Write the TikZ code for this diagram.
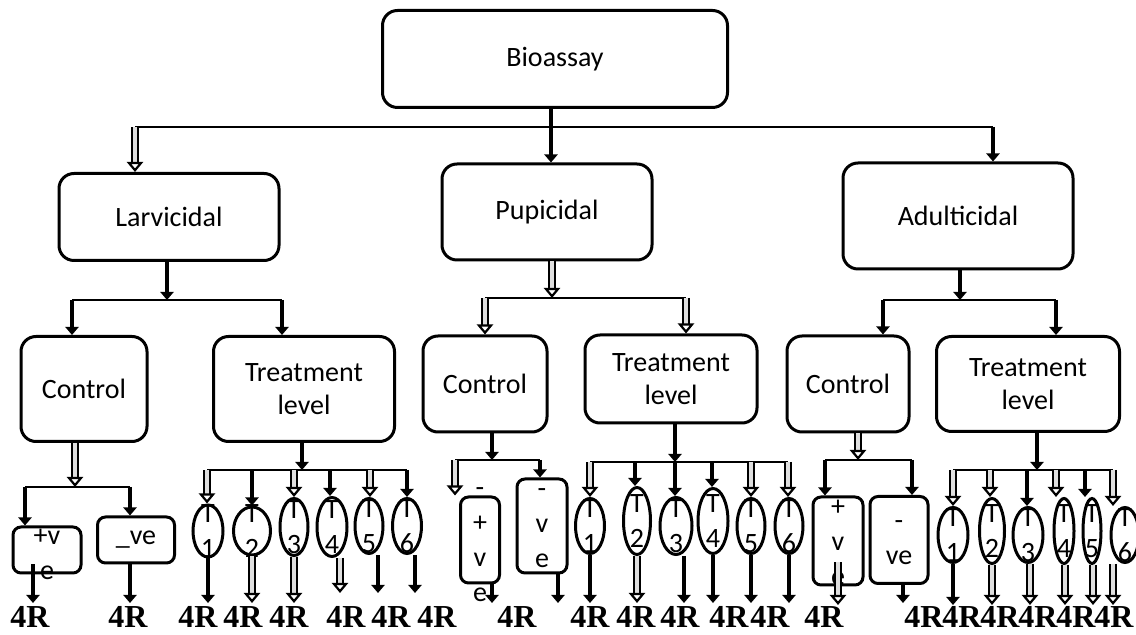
\documentclass[tikz,border=0pt]{standalone}
\usepackage{fontspec}
\setmainfont{Carlito}
\newfontfamily\repfont{Liberation Serif}
\usetikzlibrary{arrows.meta,shapes.geometric}
\tikzset{box/.style={draw, line width=1.5pt, rounded corners=7.5pt, align=center,
        inner sep=0pt, font=\fontsize{14}{16.5}\selectfont},
    smallbox/.style={box, rounded corners=4pt},
    trt/.style={draw, ellipse, line width=1.5pt, inner sep=0pt},
    lab/.style={align=center, inner sep=0pt, font=\fontsize{14}{17.5}\selectfont},
    hline/.style={line width=1pt},
    solidarr/.style={line width=2.4pt, -{Triangle[width=6.5pt,length=4pt]}},
    openarr/.style={double=gray!25, double distance=1.8pt, line width=1.1pt,
        -{Triangle[open,width=8pt,length=5pt]}},
    rep/.style={font=\repfont\bfseries\fontsize{16}{16}\selectfont, inner sep=0pt},
    }
\begin{document}
\begin{tikzpicture}[x=0.5pt, y=-0.5pt]
\useasboundingbox (0,0) rectangle (1136,635);
% top level
\node[box, minimum width=172.5pt, minimum height=48.5pt] (bio) at (555,59) {Bioassay};
\node[box, minimum width=110pt, minimum height=43.5pt] (lar) at (169,217) {Larvicidal};
\node[box, minimum width=105pt, minimum height=48pt] (pup) at (547,212) {Pupicidal};
\node[box, minimum width=115pt, minimum height=53pt] (adu) at (958,216) {Adulticidal};
\coordinate (tl) at (135,127); \coordinate (tr) at (993,127);
\draw[hline] (tl) -- (tr);
\draw[openarr] (tl) -- (tl |- lar.north);
\draw[solidarr, line width=1.6pt] (bio.south -| 551,0) -- (pup.north -| 551,0);
\draw[solidarr] (tr) -- (tr |- adu.north);
% control and treatment level
\node[box, minimum width=63pt, minimum height=52.5pt] (lcon) at (84,389) {Control};
\node[box, minimum width=90.5pt, minimum height=52.5pt] (ltre) at (304,389) {Treatment\\level};
\node[box, minimum width=62pt, minimum height=48pt] (pcon) at (485,384) {Control};
\node[box, minimum width=86pt, minimum height=44pt] (ptre) at (671,379) {Treatment\\level};
\node[box, minimum width=61pt, minimum height=48pt] (acon) at (848,384) {Control};
\node[box, minimum width=91.5pt, minimum height=47.5pt] (atre) at (1028,384) {Treatment\\level};
\coordinate (lj) at (167,300); \coordinate (lj1) at (72,300); \coordinate (lj2) at (282,300);
\draw[solidarr] (lar.south -| lj) -- (lj);
\draw[hline] (lj1) -- (lj2);
\draw[solidarr] (lj1) -- (lj1 |- lcon.north);
\draw[solidarr] (lj2) -- (lj2 |- ltre.north);
\coordinate (pj) at (552,298); \coordinate (pj1) at (485,298); \coordinate (pj2) at (686,298);
\draw[openarr] (pup.south -| pj) -- (pj);
\draw[hline] (pj1) -- (pj2);
\draw[openarr] (pj1) -- (pj1 |- pcon.north);
\draw[openarr] (pj2) -- (pj2 |- ptre.north);
\coordinate (aj) at (960,300); \coordinate (aj1) at (883,300); \coordinate (aj2) at (1056,300);
\draw[solidarr] (adu.south -| aj) -- (aj);
\draw[hline] (aj1) -- (aj2);
\draw[solidarr] (aj1) -- (aj1 |- acon.north);
\draw[solidarr] (aj2) -- (aj2 |- atre.north);
% controls: +ve and -ve
\node[smallbox, minimum width=34pt, minimum height=23pt,
    label={[lab, yshift=-2pt]center:+v\\e}] (lpos) at (47,550) {};
\node[smallbox, minimum width=38.5pt, minimum height=23pt] (lneg) at (136,540) {\_ve};
\node[smallbox, minimum width=19.5pt, minimum height=43pt,
    label={[lab, yshift=-2.5pt]center:-\\+\\v\\e}] (ppos) at (480,540) {};
\node[smallbox, minimum width=25pt, minimum height=47pt,
    label={[lab, yshift=-1pt]center:-\\v\\e}] (pneg) at (542,526) {};
\node[smallbox, minimum width=25pt, minimum height=44pt,
    label={[lab, yshift=-1pt]center:+\\v\\e}] (apos) at (838,541) {};
\node[smallbox, minimum width=29pt, minimum height=43.5pt,
    label={[lab, yshift=-1.5pt]center:-\\ve}] (aneg) at (899,540) {};
\coordinate (lc) at (75,487); \coordinate (lc1) at (25,487); \coordinate (lc2) at (130,487);
\draw[openarr] (lcon.south -| lc) -- (lc);
\draw[hline] (lc1) -- (lc2);
\draw[solidarr] (lc1) -- (lc1 |- lpos.north);
\draw[solidarr] (lc2) -- (lc2 |- lneg.north);
\draw[solidarr] ([yshift=5pt]lpos.south -| 33,0) -- (33,603);
\draw[solidarr] (lneg.south -| 130,0) -- (130,603);
\coordinate (pc) at (492,460); \coordinate (pc1) at (455,460); \coordinate (pc2) at (540,460);
\draw[solidarr] (pcon.south -| pc) -- (pc);
\draw[hline] (pc1) -- (pc2);
\draw[openarr] (pc1) -- (pc1 |- ppos.north);
\draw[solidarr] (pc2) -- (pc2 |- pneg.north);
\draw[solidarr] (ppos.south -| 492,0) -- (492,603);
\draw[solidarr] (pneg.south -| 558,0) -- (558,603);
\coordinate (ac) at (858,460); \coordinate (ac1) at (825,460); \coordinate (ac2) at (912,460);
\draw[openarr] (acon.south -| ac) -- (ac);
\draw[hline] (ac1) -- (ac2);
\draw[solidarr] (ac1) -- (ac1 |- apos.north);
\draw[solidarr] (ac2) -- (ac2 |- aneg.north);
\draw[openarr] ([yshift=12pt]apos.south -| 838,0) -- (838,605);
\draw[solidarr] (aneg.south -| 903,0) -- (903,603);
% treatment levels T1..T6
\coordinate (lb) at (302,470); \coordinate (pb) at (675,462); \coordinate (ab) at (1037,470);
\draw[solidarr] (ltre.south -| lb) -- (lb);
\draw[solidarr] (ptre.south -| pb) -- (pb);
\draw[solidarr] (atre.south -| ab) -- (ab);
\draw[hline] (207,470) -- (407,470);
\draw[hline] (590,462) -- (788,462);
\draw[hline] (953,470) -- (1113,470);
\foreach \n/\d/\x/\y/\w/\h/\hy/\ta/\ts/\ba/\bs/\be in {
    lt1/1/208/531/30/52/470/207/openarr/208/solidarr/603,
    lt2/2/252/531/37/48/470/252/solidarr/252/openarr/603,
    lt3/3/294/527/28/57/470/294/openarr/294/openarr/603,
    lt4/4/332/527/30/59/470/330/solidarr/340/openarr/593,
    lt5/5/369/526/28/55/470/370/openarr/378/solidarr/593,
    lt6/6/407/526/29/55/470/407/solidarr/415/solidarr/593,
    pt1/1/590/526/29/55/462/590/openarr/590/solidarr/603,
    pt2/2/637/521/27/67/462/635/solidarr/637/openarr/603,
    pt3/3/676/526/32/57/462/675/solidarr/684/solidarr/603,
    pt4/4/713/521/30/65/462/712/solidarr/713/solidarr/603,
    pt5/5/751/526/28/55/462/751/openarr/751/solidarr/603,
    pt6/6/789/526/28/55/462/788/openarr/789/solidarr/603,
    at1/1/953/535/30/55/470/953/openarr/953/solidarr/605,
    at2/2/992/531/25/65/470/990/openarr/992/openarr/605,
    at3/3/1028/535/30/55/470/1027/solidarr/1030/openarr/605,
    at4/4/1064/531/20/65/470/1056/openarr/1065/openarr/605,
    at5/5/1092/531/18/65/470/1085/solidarr/1093/openarr/605,
    at6/6/1125/535/28/55/470/1113/openarr/1113/openarr/605}{
    \node[trt, minimum width=\w*0.5pt, minimum height=\h*0.5pt,
        label={[lab]center:T\\\d}] (\n) at (\x,\y) {};
    \draw[\ts] (\ta,\hy) -- (\n.north -| \ta,0);
    \draw[\bs] (\n.south -| \ba,0) -- (\ba,\be);
}
% replicates
\foreach \x [count=\i] in {30,128,198,243,289,346,391,437,517,590,636,680,729,770,
    824,924,962,1000,1038,1076,1114}
    \node[rep, anchor=base] (r\i) at (\x,628) {4R};
\end{tikzpicture}
\end{document}
